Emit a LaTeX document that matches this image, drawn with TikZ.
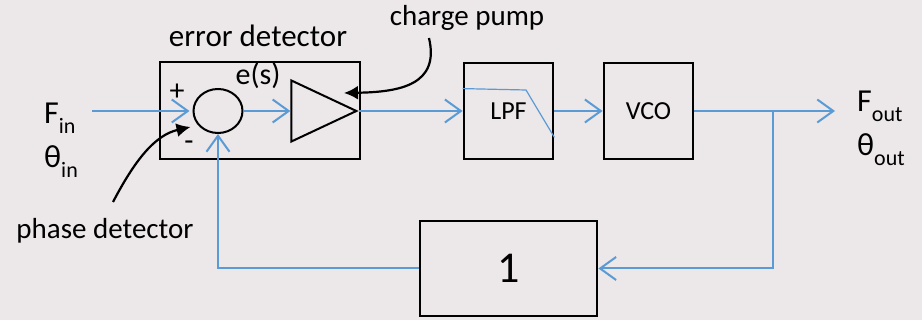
\documentclass[tikz,border=0pt]{standalone}
\usepackage{fontspec}
\setmainfont{Carlito}
\usetikzlibrary{shapes.geometric, arrows.meta, calc}
\definecolor{cWire}{RGB}{91,155,213}
\definecolor{cBack}{RGB}{236,231,232}
\newcommand{\fs}[1]{\fontsize{#1}{#1}\selectfont}
\newcommand{\lowsub}[1]{\raisebox{-9.5pt}{\fs{22}#1}}
\tikzset{
	blk/.style ={rectangle, draw=black, line width=2.8pt, inner sep=0pt},
	sumj/.style={ellipse, draw=black, line width=2pt, minimum width=49pt, minimum height=44pt, inner sep=0pt},
	amp/.style ={isosceles triangle, isosceles triangle stretches, draw=black, line width=2pt, minimum width=61pt, minimum height=65pt, inner sep=0pt},
	sig/.style ={-{Straight Barb[length=16pt, width=23pt]}, cWire, line width=2pt},
	ptr/.style ={-{Latex[length=14pt, width=14pt]}, line width=2.2pt},
	lbl/.style ={inner sep=0pt, font=\fs{29}},
	io/.style  ={anchor=base west, inner sep=0pt, font=\fs{32}},
}
\begin{document}
\begin{tikzpicture}[x=1pt, y=-1pt]
	% background
	\fill[cBack] (0,0) rectangle (922,320);
	\useasboundingbox (0,0) rectangle (922,320);
	% error detector
	\node[blk, minimum width=200pt, minimum height=97pt] (ed) at (260,110.5) {};
	\node[sumj] (sum) at (218,111) {};
	\node[amp, anchor=apex] (cp) at (359,111) {};
	\node[lbl, font=\fs{31}] (edtxt) at (258,36) {error detector};
	\node[lbl, font=\fs{30}] (es) at (258,76) {e(s)};
	\node[lbl, font=\fs{30}] (plus) at (177,92) {+};
	\node[lbl, font=\fs{30}] (minus) at (189,146) {-};
	\node[lbl] (cptxt) at (467,18) {charge pump};
	\node[lbl] (pdtxt) at (105,231) {phase detector};
	% filter, vco, feedback
	\node[blk, minimum width=89pt, minimum height=96pt, font=\fs{26}] (lpf) at (508.5,111) {LPF};
	\draw[cWire, line width=1.2pt] ($(lpf.north west)+(0,27)$) -- (526,90) -- ($(lpf.south east)+(0,-23)$);
	\node[blk, minimum width=89pt, minimum height=96pt, font=\fs{26}] (vco) at (648.5,111) {VCO};
	\node[blk, minimum width=177pt, minimum height=95pt, font=\fs{44}] (fb) at (508.5,268.5) {1};
	% in and out
	\node[io] (fin) at (44,124) {F\lowsub{in}};
	\node[io] (thin) at (44,168) {θ\lowsub{in}};
	\node[io] (fout) at (857,112) {F\lowsub{out}};
	\node[io] (thout) at (857,156) {θ\lowsub{out}};
	\coordinate (src) at (92,111);
	\coordinate (dst) at (835,111);
	\coordinate (tap) at (773,111);
	% signal path
	\draw[sig, shorten >=3pt] (src) -- (sum.west);
	\draw[sig] (sum.east) -- (cp.west);
	\draw[sig] (cp.apex) -- (lpf.west);
	\draw[sig] (lpf.east) -- (vco.west);
	\draw[sig] (vco.east) -- (dst);
	\draw[sig] (tap) |- (fb.east);
	\draw[sig] (fb.west) -| (sum.south);
	% pointers
	\coordinate (cpfoot) at (429,38);
	\coordinate (pdfoot) at (113,202);
	\draw[ptr] (cpfoot) .. controls (440,85) and (400,92) .. ($(cp.apex)+(-15,-18)$);
	\draw[ptr] (pdfoot) .. controls (135,160) and (155,135) .. ($(sum.west)+(-2,16)$);
\end{tikzpicture}
\end{document}
